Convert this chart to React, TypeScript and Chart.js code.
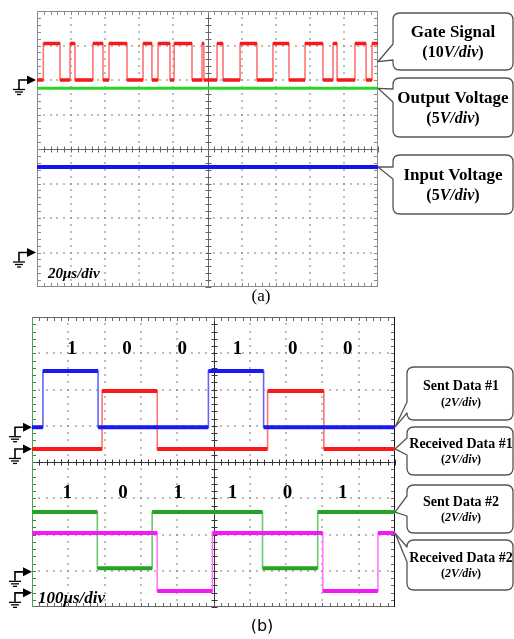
import React, { useEffect, useRef } from "react";
import { Chart, registerables } from "chart.js";

Chart.register(...registerables);

const SERIF = "'Liberation Serif', 'Times New Roman', serif";
const SANS = "'DejaVu Sans', 'Open Sans', sans-serif";

// ---------- (a) boost converter, 20 µs/div ----------
const sweepA_us = 200;
const gateEdges_us = [
  3.7, 13.5, 19.4, 22.3, 32.8, 38.7, 42.2, 52.8, 62.2, 67.4, 71.0, 78.0, 80.4, 90.9,
  96.8, 97.9, 105.6, 109.1, 119.1, 129.0, 138.4, 147.8, 157.2, 167.7, 173.6, 176.0,
  186.5, 193.0, 196.5,
];
const gateLevels_V = [0, 10.6];
const outputVoltage_V = 23.8;
const inputVoltage_V = 12.4;

// ---------- (b) data link, 100 µs/div ----------
const sweepB_us = 1000;
const sent1Edges_us = [30, 182, 486, 638];
const received1Edges_us = [193, 345, 649, 804];
const sent2Edges_us = [180, 331, 635, 787];
const received2Edges_us = [345, 497, 801, 953];
const sent1Levels_V = [0, 3.1];
const received1Levels_V = [0, 3.2];
const sent2Levels_V = [0.2, 3.3];
const received2Levels_V = [0.1, 3.3];
const bitsRow1 = ["1", "0", "0", "1", "0", "0"];
const bitsRow1_us = [110, 262, 414, 566, 718, 870];
const bitsRow2 = ["1", "0", "1", "1", "0", "1"];
const bitsRow2_us = [97, 251, 403, 552, 704, 856];

type Pt = { x: number; y: number | null };

function stepTrace(edges: number[], startHigh: boolean, levels: number[], sweep: number, vPerDiv: number, groundDiv: number): Pt[] {
  const level = (h: boolean) => groundDiv + (h ? levels[1] : levels[0]) / vPerDiv;
  let high = startHigh;
  const pts: Pt[] = [{ x: 0, y: level(high) }];
  for (const t of edges) {
    pts.push({ x: t, y: level(high) });
    high = !high;
    pts.push({ x: t, y: level(high) });
  }
  pts.push({ x: sweep, y: level(high) });
  return pts;
}

function flatTrace(v: number, sweep: number, vPerDiv: number, groundDiv: number): Pt[] {
  const y = groundDiv + v / vPerDiv;
  return [{ x: 0, y }, { x: sweep, y }];
}

// keep only the horizontal runs of a step trace, separated by gaps
function levelRuns(pts: Pt[]): Pt[] {
  const out: Pt[] = [];
  for (let i = 0; i < pts.length - 1; i++) {
    const a = pts[i];
    const b = pts[i + 1];
    if (a.x !== b.x) {
      out.push({ x: a.x, y: a.y }, { x: b.x, y: b.y }, { x: b.x, y: null });
    }
  }
  return out;
}

type Channel = {
  label: string;
  scale: string;
  groundDiv: number;
  color: string;
  edge: string;
  width: number;
  points: Pt[];
  tipDiv: number;
};

const channelsA: Channel[] = [
  {
    label: "Gate Signal", scale: "10", groundDiv: 2,
    color: "rgb(245,25,25)", edge: "rgb(255,115,115)", width: 3.5,
    points: stepTrace(gateEdges_us, false, gateLevels_V, sweepA_us, 10, 2),
    tipDiv: 2 + (gateLevels_V[0] + gateLevels_V[1]) / 2 / 10,
  },
  {
    label: "Output Voltage", scale: "5", groundDiv: -3,
    color: "rgb(40,215,40)", edge: "rgb(40,215,40)", width: 3,
    points: flatTrace(outputVoltage_V, sweepA_us, 5, -3),
    tipDiv: -3 + outputVoltage_V / 5,
  },
  {
    label: "Input Voltage", scale: "5", groundDiv: -3,
    color: "rgb(20,20,240)", edge: "rgb(20,20,240)", width: 4,
    points: flatTrace(inputVoltage_V, sweepA_us, 5, -3),
    tipDiv: -3 + inputVoltage_V / 5,
  },
];

function lastLevel(p: Pt[]) { return p[p.length - 1].y as number; }

const sent1Pts = stepTrace(sent1Edges_us, false, sent1Levels_V, sweepB_us, 2, 0.96);
const recv1Pts = stepTrace(received1Edges_us, false, received1Levels_V, sweepB_us, 2, 0.36);
const sent2Pts = stepTrace(sent2Edges_us, true, sent2Levels_V, sweepB_us, 2, -3.03);
const recv2Pts = stepTrace(received2Edges_us, true, received2Levels_V, sweepB_us, 2, -3.61);

const channelsB: Channel[] = [
  { label: "Sent Data #1", scale: "2", groundDiv: 0.96, color: "rgb(25,25,245)", edge: "rgb(100,100,255)", width: 4, points: sent1Pts, tipDiv: lastLevel(sent1Pts) },
  { label: "Received Data #1", scale: "2", groundDiv: 0.36, color: "rgb(250,25,25)", edge: "rgb(255,115,115)", width: 4, points: recv1Pts, tipDiv: lastLevel(recv1Pts) },
  { label: "Sent Data #2", scale: "2", groundDiv: -3.03, color: "rgb(35,165,35)", edge: "rgb(110,200,110)", width: 4, points: sent2Pts, tipDiv: lastLevel(sent2Pts) },
  { label: "Received Data #2", scale: "2", groundDiv: -3.61, color: "rgb(245,25,245)", edge: "rgb(255,120,255)", width: 4, points: recv2Pts, tipDiv: lastLevel(recv2Pts) },
];

// callout boxes: [x0, y0, x1, y1] in canvas px, mouth = where the pointer leaves the box edge
const boxesA = [
  { box: [393, 13, 513, 70], mouth: [44, 60] },
  { box: [393, 78, 513, 137], mouth: [89, 102] },
  { box: [393, 155, 513, 214], mouth: [167, 179] },
];
const boxesB = [
  { box: [407, 57, 513, 110], mouth: [92, 103] },
  { box: [407, 117, 513, 165], mouth: [128, 145] },
  { box: [407, 175, 513, 223], mouth: [186, 206] },
  { box: [407, 230, 513, 280], mouth: [237, 252] },
];

type GratStyle = { border: string; right: string; left: string; center: string; dot: string };

function drawGraticule(chart: any, st: GratStyle) {
  const { ctx, chartArea } = chart;
  const { left, right, top, bottom } = chartArea;
  const xs = chart.scales.x;
  const ys = chart.scales.y;
  const nx = 10, ny = 8, sub = 5;
  const px = (i: number) => xs.getPixelForValue(xs.min + ((xs.max - xs.min) * i) / nx);
  const py = (j: number) => ys.getPixelForValue(ys.min + ((ys.max - ys.min) * j) / ny);
  ctx.save();
  // dotted division lines
  ctx.fillStyle = st.dot;
  for (let i = 1; i < nx; i++) {
    if (i === nx / 2) continue;
    const x = Math.round(px(i));
    for (let k = 1; k < ny * sub; k++) ctx.fillRect(x - 0.75, Math.round(py(k / sub)) - 0.75, 1.5, 1.5);
  }
  for (let j = 1; j < ny; j++) {
    if (j === ny / 2) continue;
    const y = Math.round(py(j));
    for (let k = 1; k < nx * sub; k++) ctx.fillRect(Math.round(px(k / sub)) - 0.75, y - 0.75, 1.5, 1.5);
  }
  const line = (x0: number, y0: number, x1: number, y1: number) => {
    ctx.beginPath();
    ctx.moveTo(x0, y0);
    ctx.lineTo(x1, y1);
    ctx.stroke();
  };
  // centre cross with minor ticks
  ctx.strokeStyle = st.center;
  ctx.lineWidth = 1;
  const cx = Math.round(px(nx / 2)) + 0.5;
  const cy = Math.round(py(ny / 2)) + 0.5;
  line(cx, top, cx, bottom);
  line(left, cy, right, cy);
  for (let k = 0; k <= nx * sub; k++) {
    const x = Math.round(px(k / sub)) + 0.5;
    line(x, cy - 3, x, cy + 3);
  }
  for (let k = 0; k <= ny * sub; k++) {
    const y = Math.round(py(k / sub)) + 0.5;
    line(cx - 3, y, cx + 3, y);
  }
  // frame with inward ticks
  ctx.strokeStyle = st.border;
  for (let k = 1; k < nx * sub; k++) {
    const x = Math.round(px(k / sub)) + 0.5;
    line(x, top, x, top + 4);
    line(x, bottom - 4, x, bottom);
  }
  for (let k = 1; k < ny * sub; k++) {
    const y = Math.round(py(k / sub)) + 0.5;
    line(left, y, left + 4, y);
    line(right - 4, y, right, y);
  }
  line(left, top + 0.5, right, top + 0.5);
  line(left, bottom - 0.5, right, bottom - 0.5);
  ctx.strokeStyle = st.left;
  line(left + 0.5, top, left + 0.5, bottom);
  ctx.strokeStyle = st.right;
  line(right - 0.5, top, right - 0.5, bottom);
  ctx.restore();
}

function drawGround(ctx: CanvasRenderingContext2D, tipX: number, y: number) {
  ctx.save();
  ctx.fillStyle = "#000";
  ctx.strokeStyle = "#000";
  ctx.lineWidth = 1.6;
  ctx.beginPath();
  ctx.moveTo(tipX, y);
  ctx.lineTo(tipX - 9, y - 4.5);
  ctx.lineTo(tipX - 9, y + 4.5);
  ctx.closePath();
  ctx.fill();
  ctx.beginPath();
  ctx.moveTo(tipX - 8, y);
  ctx.lineTo(tipX - 17, y);
  ctx.lineTo(tipX - 17, y + 9);
  ctx.stroke();
  ctx.lineWidth = 1.3;
  const bar = (half: number, dy: number) => {
    ctx.beginPath();
    ctx.moveTo(tipX - 17 - half, y + dy);
    ctx.lineTo(tipX - 17 + half, y + dy);
    ctx.stroke();
  };
  bar(6, 9.5);
  bar(4, 12);
  bar(2, 14.5);
  ctx.restore();
}

function drawRuns(ctx: CanvasRenderingContext2D, runs: [string, string][], cx: number, cy: number) {
  let total = 0;
  for (const [t, f] of runs) {
    ctx.font = f;
    total += ctx.measureText(t).width;
  }
  let x = cx - total / 2;
  ctx.textAlign = "left";
  ctx.textBaseline = "middle";
  for (const [t, f] of runs) {
    ctx.font = f;
    ctx.fillText(t, x, cy);
    x += ctx.measureText(t).width;
  }
}

function drawCallout(ctx: CanvasRenderingContext2D, box: number[], mouth: number[], tipX: number, tipY: number) {
  const [x0, y0, x1, y1] = box;
  const r = 7;
  ctx.save();
  ctx.beginPath();
  ctx.moveTo(x0, mouth[0]);
  ctx.lineTo(tipX, tipY);
  ctx.lineTo(x0, mouth[1]);
  ctx.lineTo(x0, y1 - r);
  ctx.quadraticCurveTo(x0, y1, x0 + r, y1);
  ctx.lineTo(x1 - r, y1);
  ctx.quadraticCurveTo(x1, y1, x1, y1 - r);
  ctx.lineTo(x1, y0 + r);
  ctx.quadraticCurveTo(x1, y0, x1 - r, y0);
  ctx.lineTo(x0 + r, y0);
  ctx.quadraticCurveTo(x0, y0, x0, y0 + r);
  ctx.closePath();
  ctx.fillStyle = "#fff";
  ctx.fill();
  ctx.strokeStyle = "#555";
  ctx.lineWidth = 1.3;
  ctx.lineJoin = "round";
  ctx.stroke();
  ctx.restore();
}

// each channel: thin light transitions underneath, thick levels on top
function datasetsFor(channels: Channel[]) {
  const edges = channels.map((ch) => ({
    label: ch.label + " edges",
    data: ch.points,
    borderColor: ch.edge,
    borderWidth: 1.6,
    pointRadius: 0,
    tension: 0,
    fill: false,
    order: 1,
  }));
  const levels = channels.map((ch) => ({
    label: ch.label,
    data: levelRuns(ch.points),
    borderColor: ch.color,
    borderWidth: ch.width,
    borderCapStyle: "butt" as const,
    pointRadius: 0,
    tension: 0,
    fill: false,
    spanGaps: false,
    order: 0,
  }));
  return [...levels, ...edges];
}

function baseOptions(sweep: number, padding: any) {
  return {
    responsive: false,
    animation: false as const,
    devicePixelRatio: 1,
    events: [] as any[],
    layout: { padding },
    scales: {
      x: { type: "linear" as const, min: 0, max: sweep, display: false },
      y: { type: "linear" as const, min: -4, max: 4, display: false },
    },
    plugins: { legend: { display: false }, tooltip: { enabled: false } },
  };
}

function uniqueGrounds(channels: Channel[]) {
  return Array.from(new Set(channels.map((c) => c.groundDiv)));
}

const panelA = {
  id: "panelA",
  beforeDatasetsDraw(chart: any) {
    drawGraticule(chart, { border: "#8a8a8a", right: "#8a8a8a", left: "#8a8a8a", center: "#666", dot: "#8a8a8a" });
  },
  afterDraw(chart: any) {
    const { ctx, chartArea } = chart;
    const ys = chart.scales.y;
    for (const g of uniqueGrounds(channelsA)) drawGround(ctx, chartArea.left - 1, ys.getPixelForValue(g));
    ctx.save();
    ctx.fillStyle = "#000";
    ctx.font = `bold italic 15px ${SERIF}`;
    ctx.textAlign = "left";
    ctx.textBaseline = "alphabetic";
    ctx.fillText("20μs/div", chartArea.left + 11, chartArea.bottom - 9);
    channelsA.forEach((ch, i) => {
      const b = boxesA[i];
      drawCallout(ctx, b.box, b.mouth, chartArea.right, ys.getPixelForValue(ch.tipDiv));
      const cx = (b.box[0] + b.box[2]) / 2;
      const cy = (b.box[1] + b.box[3]) / 2;
      ctx.fillStyle = "#000";
      drawRuns(ctx, [[ch.label, `bold 17px ${SERIF}`]], cx, cy - 9);
      drawRuns(ctx, [["(" + ch.scale, `bold 16px ${SERIF}`], ["V/div", `bold italic 16px ${SERIF}`], [")", `bold 16px ${SERIF}`]], cx, cy + 11);
    });
    ctx.fillStyle = "#000";
    ctx.font = `17px ${SERIF}`;
    ctx.textAlign = "center";
    ctx.textBaseline = "middle";
    ctx.fillText("(a)", 261, 297);
    ctx.restore();
  },
};

const panelB = {
  id: "panelB",
  beforeDatasetsDraw(chart: any) {
    drawGraticule(chart, { border: "#666", right: "#111", left: "rgb(60,175,60)", center: "#333", dot: "#888" });
  },
  afterDraw(chart: any) {
    const { ctx, chartArea } = chart;
    const xs = chart.scales.x;
    const ys = chart.scales.y;
    for (const g of uniqueGrounds(channelsB)) drawGround(ctx, chartArea.left, ys.getPixelForValue(g));
    ctx.save();
    ctx.fillStyle = "#000";
    ctx.font = `bold 19px ${SERIF}`;
    ctx.textAlign = "center";
    ctx.textBaseline = "middle";
    bitsRow1.forEach((b, i) => ctx.fillText(b, xs.getPixelForValue(bitsRow1_us[i]), ys.getPixelForValue(3.12)));
    bitsRow2.forEach((b, i) => ctx.fillText(b, xs.getPixelForValue(bitsRow2_us[i]), ys.getPixelForValue(-0.86)));
    ctx.font = `bold italic 17px ${SERIF}`;
    ctx.textAlign = "left";
    ctx.textBaseline = "alphabetic";
    ctx.fillText("100μs/div", chartArea.left + 6, chartArea.bottom - 4);
    channelsB.forEach((ch, i) => {
      const b = boxesB[i];
      drawCallout(ctx, b.box, b.mouth, chartArea.right, ys.getPixelForValue(ch.tipDiv));
      const cx = (b.box[0] + b.box[2]) / 2 + 1;
      const cy = (b.box[1] + b.box[3]) / 2;
      ctx.fillStyle = "#000";
      drawRuns(ctx, [[ch.label, `bold 14px ${SERIF}`]], cx, cy - 7);
      drawRuns(ctx, [["(", `bold 12px ${SERIF}`], [ch.scale + "V/div", `bold italic 12px ${SERIF}`], [")", `bold 12px ${SERIF}`]], cx, cy + 9);
    });
    ctx.fillStyle = "#000";
    ctx.font = `16px ${SANS}`;
    ctx.textAlign = "center";
    ctx.textBaseline = "middle";
    ctx.fillText("(b)", 262, 317);
    ctx.restore();
  },
};

export default function App() {
  const refA = useRef<HTMLCanvasElement>(null);
  const refB = useRef<HTMLCanvasElement>(null);

  useEffect(() => {
    const chartA = new Chart(refA.current as HTMLCanvasElement, {
      type: "line",
      data: { datasets: datasetsFor(channelsA) as any },
      options: baseOptions(sweepA_us, { left: 37, right: 514 - 378, top: 11, bottom: 310 - 287 }) as any,
      plugins: [panelA],
    });
    const chartB = new Chart(refB.current as HTMLCanvasElement, {
      type: "line",
      data: { datasets: datasetsFor(channelsB) as any },
      options: baseOptions(sweepB_us, { left: 32, right: 514 - 395, top: 7, bottom: 329 - 297 }) as any,
      plugins: [panelB],
    });
    return () => {
      chartA.destroy();
      chartB.destroy();
    };
  }, []);

  return (
    <div style={{ position: "absolute", left: 0, top: 0, width: 514, height: 639, background: "#fff" }}>
      <canvas ref={refA} width={514} height={310} style={{ position: "absolute", left: 0, top: 0 }} />
      <canvas ref={refB} width={514} height={329} style={{ position: "absolute", left: 0, top: 310 }} />
    </div>
  );
}
